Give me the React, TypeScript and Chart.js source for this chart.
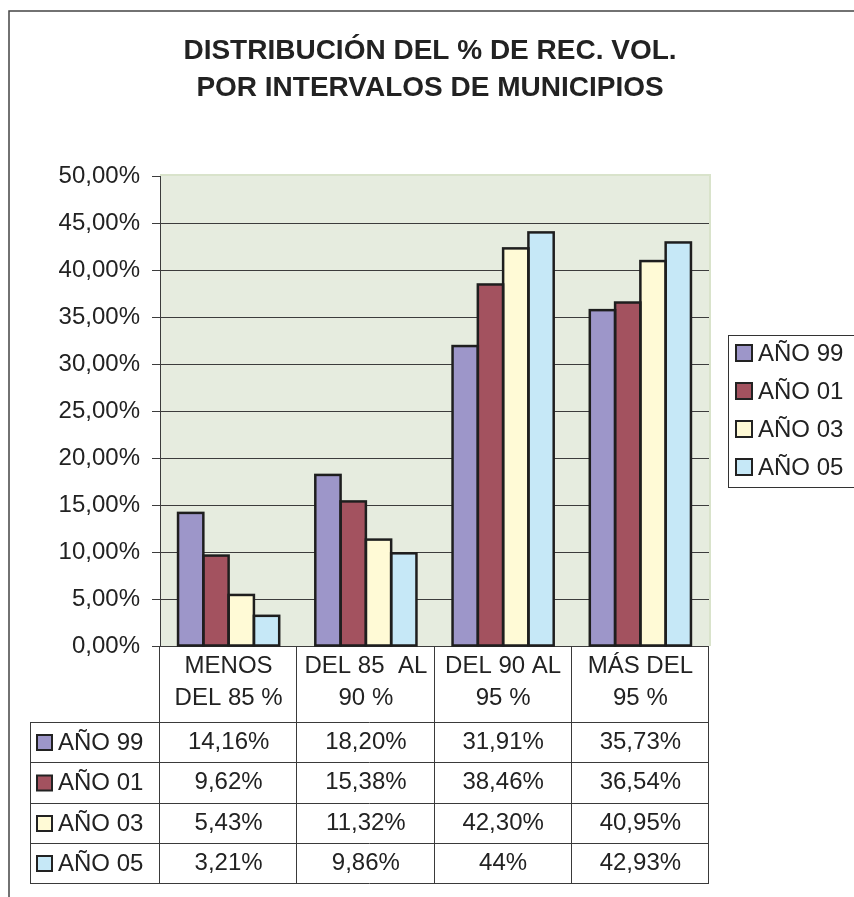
import React, { useEffect, useRef } from "react";
import { Chart, registerables } from "chart.js";

Chart.register(...registerables);

const titleLines = ["DISTRIBUCIÓN DEL % DE REC. VOL.", "POR INTERVALOS DE MUNICIPIOS"];
const categories: string[][] = [
  ["MENOS", "DEL 85 %"],
  ["DEL 85  AL", "90 %"],
  ["DEL 90 AL", "95 %"],
  ["MÁS DEL", "95 %"],
];
const seriesNames = ["AÑO 99", "AÑO 01", "AÑO 03", "AÑO 05"];
const ano99 = [14.16, 18.2, 31.91, 35.73];
const ano01 = [9.62, 15.38, 38.46, 36.54];
const ano03 = [5.43, 11.32, 42.3, 40.95];
const ano05 = [3.21, 9.86, 44, 42.93];
const seriesColors = ["#9d96c9", "#a3525f", "#fffad6", "#c6e8f7"];
const yTicks = [0, 5, 10, 15, 20, 25, 30, 35, 40, 45, 50];

const FONT = "'Liberation Sans', Arial, Helvetica, sans-serif";

const fmtTick = (v: number) => v.toFixed(2).replace(".", ",") + "%";
const fmtVal = (v: number) =>
  Number.isInteger(v) ? `${v}%` : v.toFixed(2).replace(".", ",") + "%";

const decorPlugin = {
  id: "decor",
  beforeDraw(chart: any) {
    const { ctx, chartArea } = chart;
    ctx.save();
    ctx.fillStyle = "#ffffff";
    ctx.fillRect(0, 0, chart.width, chart.height);
    // plot background
    ctx.fillStyle = "#e6ecdf";
    ctx.fillRect(chartArea.left, chartArea.top - 1, chartArea.right - chartArea.left + 1, chartArea.bottom - chartArea.top + 1);
    ctx.strokeStyle = "#d9e3cb";
    ctx.lineWidth = 2;
    ctx.beginPath();
    ctx.moveTo(chartArea.left, chartArea.top - 1);
    ctx.lineTo(chartArea.right + 1, chartArea.top - 1);
    ctx.lineTo(chartArea.right + 1, chartArea.bottom);
    ctx.stroke();
    ctx.restore();
  },
  afterDatasetsDraw(chart: any) {
    const { ctx } = chart;
    ctx.save();
    ctx.strokeStyle = "#1e1e1e";
    ctx.lineWidth = 2.5;
    ctx.lineJoin = "miter";
    chart.data.datasets.forEach((_: any, di: number) => {
      const meta = chart.getDatasetMeta(di);
      meta.data.forEach((el: any) => {
        const { x, y, base, width } = el.getProps(["x", "y", "base", "width"], true);
        ctx.strokeRect(x - width / 2, y, width, base - y);
      });
    });
    ctx.restore();
  },
  afterDraw(chart: any) {
    const { ctx, chartArea, scales } = chart;
    const xs = scales.x;
    ctx.save();
    // outer frame
    ctx.strokeStyle = "#444";
    ctx.lineWidth = 1.5;
    ctx.beginPath();
    ctx.moveTo(9, chart.height);
    ctx.lineTo(9, 11);
    ctx.lineTo(chart.width, 11);
    ctx.stroke();

    // title
    ctx.fillStyle = "#222";
    ctx.font = `bold 28px ${FONT}`;
    ctx.textAlign = "center";
    ctx.textBaseline = "middle";
    titleLines.forEach((t, i) => ctx.fillText(t, 430, 51 + i * 37));

    // legend
    const lx = 728, ly = 335;
    ctx.strokeStyle = "#333";
    ctx.lineWidth = 1;
    ctx.strokeRect(lx + 0.5, ly + 0.5, 140, 152);
    ctx.font = `24px ${FONT}`;
    ctx.textAlign = "left";
    chart.data.datasets.forEach((ds: any, i: number) => {
      const cy = 353 + i * 38;
      ctx.fillStyle = ds.backgroundColor;
      ctx.fillRect(736, cy - 8, 16, 16);
      ctx.strokeStyle = "#222";
      ctx.lineWidth = 2;
      ctx.strokeRect(736, cy - 8, 16, 16);
      ctx.fillStyle = "#222";
      ctx.fillText(ds.label, 758, cy + 1);
    });

    // data table
    const catW = (chartArea.right - chartArea.left) / categories.length;
    const tblLeft = 30;
    const rowTops = [722, 762, 803, 843, 883];
    ctx.strokeStyle = "#3a3a3a";
    ctx.lineWidth = 1;
    ctx.beginPath();
    rowTops.forEach((y) => {
      ctx.moveTo(tblLeft, y + 0.5);
      ctx.lineTo(chartArea.right, y + 0.5);
    });
    ctx.moveTo(tblLeft + 0.5, rowTops[0]);
    ctx.lineTo(tblLeft + 0.5, rowTops[4]);
    for (let i = 0; i <= categories.length; i++) {
      const x = Math.round(chartArea.left + i * catW) - 0.5;
      ctx.moveTo(x, chartArea.bottom);
      ctx.lineTo(x, rowTops[4]);
    }
    ctx.stroke();

    ctx.fillStyle = "#222";
    ctx.font = `24px ${FONT}`;
    ctx.textAlign = "center";
    categories.forEach((lines, i) => {
      const cx = xs.getPixelForValue(i);
      lines.forEach((l, j) => ctx.fillText(l, cx, 666 + j * 32));
    });
    chart.data.datasets.forEach((ds: any, r: number) => {
      const cy = (rowTops[r] + rowTops[r + 1]) / 2 + 1;
      ds.data.forEach((v: number, i: number) => {
        ctx.fillStyle = "#222";
        ctx.textAlign = "center";
        ctx.fillText(fmtVal(v), xs.getPixelForValue(i), cy - 1);
      });
      ctx.fillStyle = ds.backgroundColor;
      ctx.fillRect(37, cy - 8, 15, 15);
      ctx.strokeStyle = "#222";
      ctx.lineWidth = 2;
      ctx.strokeRect(37, cy - 8, 15, 15);
      ctx.fillStyle = "#222";
      ctx.textAlign = "left";
      ctx.fillText(ds.label, 58, cy);
    });
    ctx.restore();
  },
};

export default function App() {
  const ref = useRef<HTMLCanvasElement>(null);
  useEffect(() => {
    if (!ref.current) return;
    const seriesData = [ano99, ano01, ano03, ano05];
    const chart = new Chart(ref.current, {
      type: "bar",
      data: {
        labels: categories.map((c) => c.join(" ")),
        datasets: seriesNames.map((name, i) => ({
          label: name,
          data: seriesData[i],
          backgroundColor: seriesColors[i],
          borderWidth: 0,
          categoryPercentage: 0.737,
          barPercentage: 1,
        })),
      },
      options: {
        responsive: false,
        animation: false,
        devicePixelRatio: 1,
        layout: { padding: { left: 0, top: 176, right: 145, bottom: 0 } },
        plugins: {
          legend: { display: false },
          title: { display: false },
          tooltip: { enabled: false },
        },
        scales: {
          x: {
            ticks: { display: false },
            grid: { display: false },
            border: { display: false },
            afterFit: (s: any) => {
              s.height = 251;
            },
          },
          y: {
            min: 0,
            max: 50,
            afterBuildTicks: (s: any) => {
              s.ticks = yTicks.map((v) => ({ value: v }));
            },
            ticks: {
              callback: (v: any) => fmtTick(Number(v)),
              color: "#222",
              font: { family: FONT, size: 24 },
              padding: 12,
            },
            grid: {
              color: (c: any) => (c.tick && c.tick.value === 50 ? "rgba(0,0,0,0)" : "#3c3c3c"),
              tickColor: "#3c3c3c",
              tickLength: 8,
              lineWidth: 1,
            },
            border: { display: true, color: "#3c3c3c", width: 1 },
            afterFit: (s: any) => {
              s.width = 160;
            },
          },
        },
      },
      plugins: [decorPlugin],
    });
    return () => chart.destroy();
  }, []);
  return (
    <div style={{ position: "fixed", left: 0, top: 0, width: 854, height: 897, background: "#fff" }}>
      <canvas ref={ref} width={854} height={897} style={{ width: 854, height: 897, display: "block" }} />
    </div>
  );
}
